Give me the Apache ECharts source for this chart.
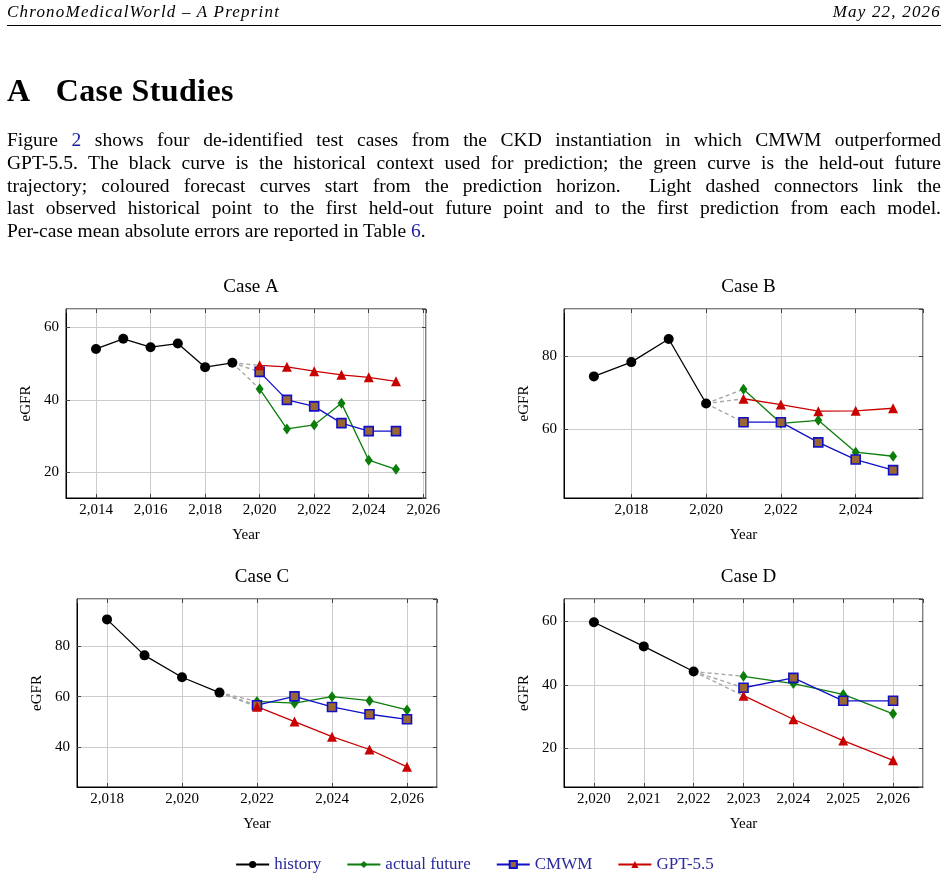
<!DOCTYPE html>
<html>
<head>
<meta charset="utf-8">
<script src="https://cdn.jsdelivr.net/npm/echarts@6/dist/echarts.min.js"></script>
<style>
body { margin:0; width:949px; height:876px; overflow:hidden; background:#fff; font-family:"Liberation Serif", serif; color:#000; }
#chart { position:absolute; left:0; top:0; width:949px; height:876px; }
.hdr { position:absolute; top:2px; font-style:italic; font-size:17px; letter-spacing:1.2px; }
.rule { position:absolute; left:7px; width:934px; top:25px; border-top:1px solid #000; }
h1 { position:absolute; left:7px; top:74px; margin:0; font-size:32px; line-height:32px; font-weight:bold; letter-spacing:0.4px; }
.para { position:absolute; left:7px; width:934px; top:129px; font-size:19.5px; line-height:22.8px; }
.para div { text-align:justify; text-align-last:justify; white-space:nowrap; }
.para div.last { text-align-last:left; }
a { color:#1a1aa6; text-decoration:none; }
</style>
</head>
<body>
<div id="chart"></div>
<div class="hdr" style="left:7px">ChronoMedicalWorld – A Preprint</div>
<div class="hdr" style="right:8px">May 22, 2026</div>
<div class="rule"></div>
<h1>A&nbsp;&nbsp;&nbsp;Case Studies</h1>
<div class="para" id="para">
<div><span class="m">Figure <a>2</a> shows four de-identified test cases from the CKD instantiation in which CMWM outperformed</span></div>
<div><span class="m">GPT-5.5. The black curve is the historical context used for prediction; the green curve is the held-out future</span></div>
<div><span class="m">trajectory; coloured forecast curves start from the prediction horizon.&nbsp; Light dashed connectors link the</span></div>
<div><span class="m">last observed historical point to the first held-out future point and to the first prediction from each model.</span></div>
<div class="last"><span class="m">Per-case mean absolute errors are reported in Table <a>6</a>.</span></div>
</div>
<script>
// case data (eGFR by year)
const caseNames = ['Case A', 'Case B', 'Case C', 'Case D'];

const histYears = [
    [2014, 2015, 2016, 2017, 2018, 2019],
    [2017, 2018, 2019, 2020],
    [2018, 2019, 2020, 2021],
    [2020, 2021, 2022]
];
const histValues = [
    [54.0, 56.8, 54.5, 55.5, 49.0, 50.2],
    [74.5, 78.4, 84.7, 67.1],
    [90.7, 76.4, 67.7, 61.6],
    [59.7, 52.1, 44.2]
];

const futureYears = [
    [2020, 2021, 2022, 2023, 2024, 2025],
    [2021, 2022, 2023, 2024, 2025],
    [2022, 2023, 2024, 2025, 2026],
    [2023, 2024, 2025, 2026]
];
const actualValues = [
    [43.0, 32.0, 33.1, 39.1, 23.4, 20.9],
    [71.0, 61.7, 62.5, 53.8, 52.7],
    [58.1, 57.4, 60.0, 58.4, 54.7],
    [42.7, 40.4, 37.0, 30.9]
];
const cmwmValues = [
    [47.7, 40.0, 38.2, 33.6, 31.4, 31.4],
    [62.0, 62.0, 56.5, 51.8, 48.9],
    [56.6, 60.1, 55.9, 53.0, 51.0],
    [39.1, 42.2, 35.0, 35.0]
];
const gptValues = [
    [49.5, 49.1, 47.9, 46.9, 46.2, 45.1],
    [68.4, 66.8, 65.0, 65.1, 65.8],
    [56.0, 50.1, 44.1, 39.0, 32.1],
    [36.6, 29.2, 22.5, 16.3]
];

const yTickStep = [20, 20, 20, 20];
const xTickStep = [2, 2, 2, 1];

// layout
const grids = [
    { left: 66, top: 309, width: 360, height: 189 },
    { left: 564, top: 309, width: 359, height: 189 },
    { left: 77, top: 599, width: 360, height: 188 },
    { left: 564, top: 599, width: 359, height: 188 }
];
const yExtent = [[13, 65], [41.3, 92.9], [24.1, 98.8], [7.9, 67]];
const ySplit = [3, 3, 4, 3];
const xSplit = [6, 5, 5, 6];

const FONT = '"Liberation Serif", serif';
const colors = { hist: '#000000', actual: '#0a7d0a', cmwm: '#1010c8', gpt: '#c80000', conn: '#a8a8a8', brown: '#9a6633' };

function fmt(v, step) {
    const r = Math.round(v);
    if (Math.abs(v - r) > 1e-6 || r % step !== 0) return '';
    return String(r).replace(/\B(?=(\d{3})+(?!\d))/g, ',');
}

const chart = echarts.init(document.getElementById('chart'));

const xAxes = [], yAxes = [], series = [], titles = [];

grids.forEach((g, i) => {

    const allX = histYears[i].concat(futureYears[i]);
    const x0 = Math.min(...allX), x1 = Math.max(...allX);
    const pad = (x1 - x0) * 0.1;

    titles.push({
        text: caseNames[i],
        left: g.left + g.width / 2,
        top: g.top - 36,
        textAlign: 'center',
        textStyle: { fontFamily: FONT, fontSize: 19, fontWeight: 'normal', color: '#000' }
    });

    const xBase = {
        type: 'value', gridIndex: i, min: x0 - pad, max: x1 + pad, splitNumber: xSplit[i]
    };
    const yBase = {
        type: 'value', gridIndex: i, min: yExtent[i][0], max: yExtent[i][1], splitNumber: ySplit[i]
    };

    xAxes[i] = Object.assign({}, xBase, {
        position: 'bottom',
        name: 'Year', nameLocation: 'middle', nameGap: 30,
        nameTextStyle: { fontFamily: FONT, fontSize: 15, color: '#000' },
        axisLine: { lineStyle: { color: '#000', width: 1 } },
        axisTick: { inside: true, length: 4, lineStyle: { color: '#444' } },
        axisLabel: { margin: 5, fontFamily: FONT, fontSize: 15, color: '#000',
            showMinLabel: false, showMaxLabel: false, formatter: v => fmt(v, xTickStep[i]) },
        splitLine: { show: true, lineStyle: { color: '#cccccc', width: 1 } }
    });
    xAxes[i + 4] = Object.assign({}, xBase, {
        position: 'top',
        axisLine: { show: false },
        axisTick: { inside: true, length: 4, lineStyle: { color: '#444' } },
        axisLabel: { show: false },
        splitLine: { show: false }
    });

    yAxes[i] = Object.assign({}, yBase, {
        position: 'left',
        name: 'eGFR', nameLocation: 'middle', nameGap: 32, nameRotate: 90,
        nameTextStyle: { fontFamily: FONT, fontSize: 15, color: '#000' },
        axisLine: { show: true, lineStyle: { color: '#000', width: 1 } },
        axisTick: { show: true, inside: true, length: 4, lineStyle: { color: '#444' } },
        axisLabel: { margin: 7, fontFamily: FONT, fontSize: 15, color: '#000',
            showMinLabel: false, showMaxLabel: false, formatter: v => fmt(v, yTickStep[i]) },
        splitLine: { show: true, lineStyle: { color: '#cccccc', width: 1 } }
    });
    yAxes[i + 4] = Object.assign({}, yBase, {
        position: 'right',
        axisLine: { show: false },
        axisTick: { show: true, inside: true, length: 4, lineStyle: { color: '#444' } },
        axisLabel: { show: false },
        splitLine: { show: false }
    });

    const pairs = (xs, ys) => xs.map((x, k) => [x, ys[k]]);
    const lastHist = [histYears[i][histYears[i].length - 1], histValues[i][histValues[i].length - 1]];

    // dashed connectors from last observed point
    [actualValues, cmwmValues, gptValues].forEach(arr => {
        series.push({
            type: 'line', xAxisIndex: i, yAxisIndex: i, silent: true,
            data: [lastHist, [futureYears[i][0], arr[i][0]]],
            symbol: 'none',
            lineStyle: { color: colors.conn, width: 1.4, type: [4, 3] },
            z: 1
        });
    });

    const base = { type: 'line', xAxisIndex: i, yAxisIndex: i, animation: false, z: 3 };

    series.push(Object.assign({}, base, {
        name: 'history', data: pairs(histYears[i], histValues[i]),
        symbol: 'circle', symbolSize: 10,
        itemStyle: { color: colors.hist },
        lineStyle: { color: colors.hist, width: 1.3 }
    }));
    series.push(Object.assign({}, base, {
        name: 'actual future', data: pairs(futureYears[i], actualValues[i]),
        symbol: 'diamond', symbolSize: [8, 11],
        itemStyle: { color: colors.actual },
        lineStyle: { color: colors.actual, width: 1.3 }
    }));
    series.push(Object.assign({}, base, {
        name: 'CMWM', data: pairs(futureYears[i], cmwmValues[i]),
        symbol: 'rect', symbolSize: 9,
        itemStyle: { color: colors.brown, borderColor: colors.cmwm, borderWidth: 1.6 },
        lineStyle: { color: colors.cmwm, width: 1.3 }
    }));
    series.push(Object.assign({}, base, {
        name: 'GPT-5.5', data: pairs(futureYears[i], gptValues[i]),
        symbol: 'triangle', symbolSize: 10,
        itemStyle: { color: colors.gpt },
        lineStyle: { color: colors.gpt, width: 1.3 }
    }));
});

const option = {
    animation: false,
    backgroundColor: 'transparent',
    title: titles,
    grid: grids.map(g => Object.assign({ show: true, borderColor: '#000', borderWidth: 1, containLabel: false }, g)),
    xAxis: xAxes,
    yAxis: yAxes,
    legend: {
        data: ['history', 'actual future', 'CMWM', 'GPT-5.5'],
        left: 'center',
        top: 851,
        itemWidth: 33,
        itemHeight: 9,
        itemGap: 25,
        textStyle: { fontFamily: FONT, fontSize: 17, color: '#2a2a9c' }
    },
    series
};

chart.setOption(option);
</script>
</body>
</html>
